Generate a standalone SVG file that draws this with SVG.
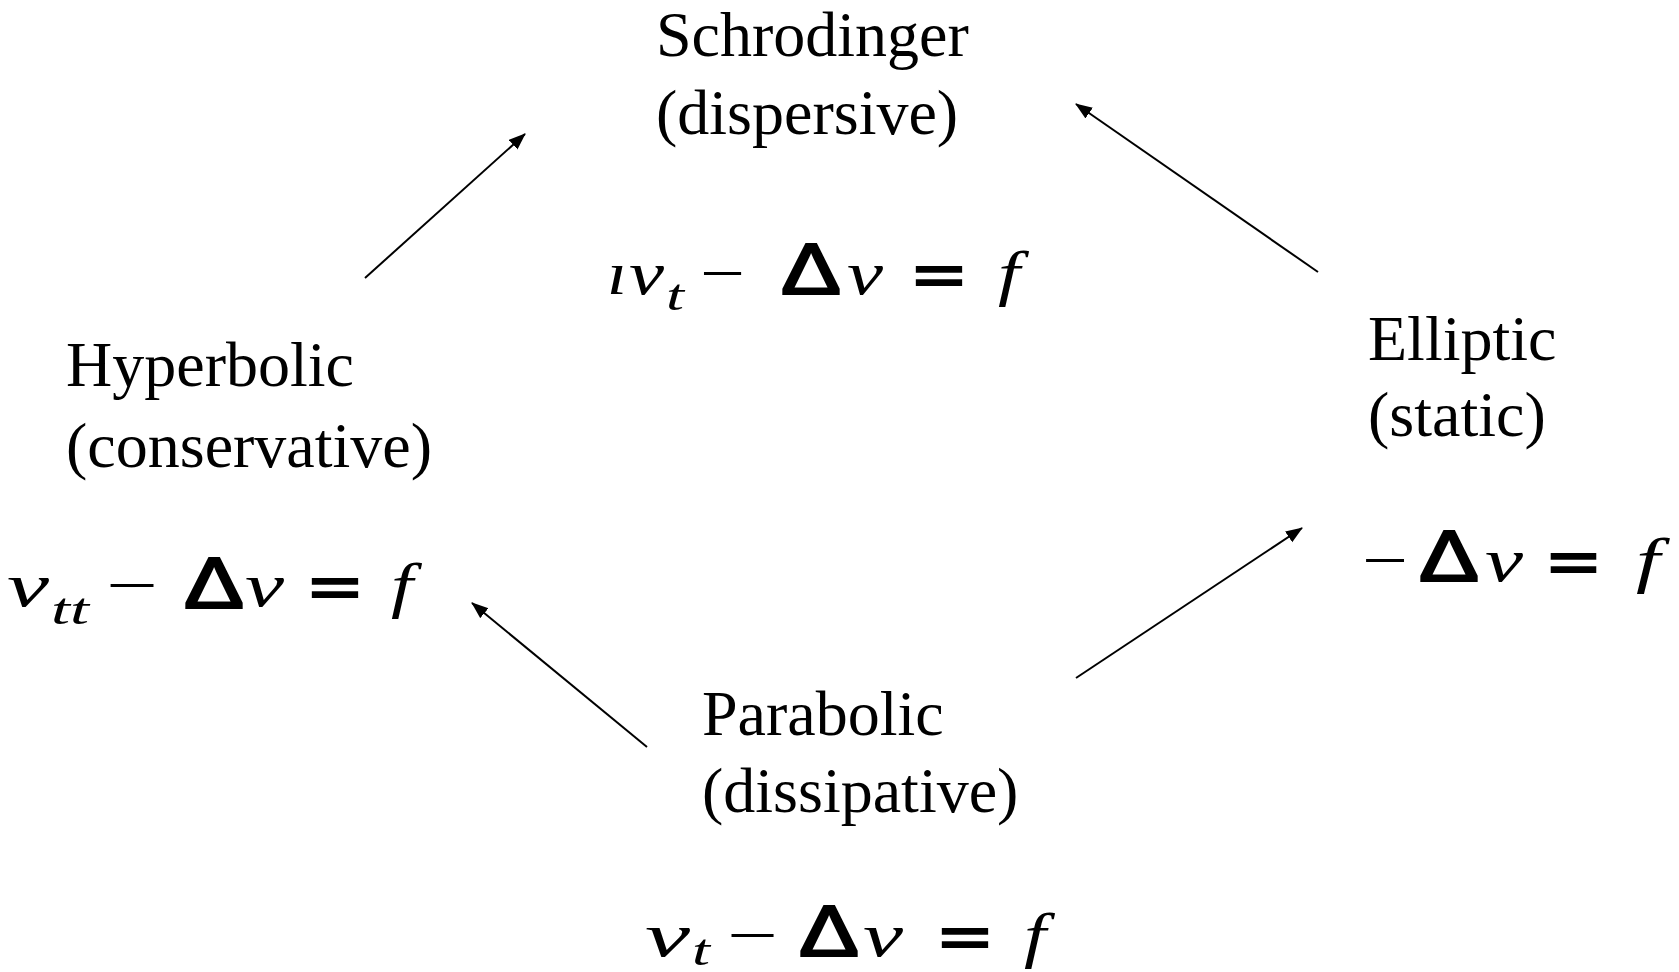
<svg xmlns="http://www.w3.org/2000/svg" width="1679" height="972" viewBox="0 0 1679 972">
<style>
.lbl{font-family:"Liberation Serif","Times New Roman",serif;font-size:64px;fill:#000}
.mi{font-family:"Liberation Serif","Times New Roman",serif;font-style:italic;font-weight:normal;font-size:62px;fill:#000}
.sub{font-family:"Liberation Serif","Times New Roman",serif;font-style:italic;font-size:44px;fill:#000}
.op{font-family:"Liberation Serif","Times New Roman",serif;font-size:62px;fill:#000}
.dl{font-family:"Liberation Sans",Arial,sans-serif;font-weight:normal;font-size:72px;fill:#000;stroke:#000;stroke-width:2.2}
.eq{font-family:"DejaVu Sans",sans-serif;font-weight:bold;font-size:58px;fill:#000}
.conn line{stroke:#000;stroke-width:2;marker-end:url(#ah)}
</style>
<defs>
<marker id="ah" markerUnits="userSpaceOnUse" markerWidth="18" markerHeight="14" refX="16" refY="6.5" orient="auto">
<path d="M0,0 L17,6.5 L0,13 z" fill="#000"/>
</marker>
</defs>
<rect width="1679" height="972" fill="#fff"/>
<g id="schrodinger">
<text class="lbl" x="656" y="56">Schrodinger</text>
<text class="lbl" x="656" y="134">(dispersive)</text>
<g id="eq-schrodinger">
<text class="mi" x="607" y="294" textLength="20" lengthAdjust="spacingAndGlyphs">ı</text>
<text class="mi" x="629" y="294" textLength="35" lengthAdjust="spacingAndGlyphs">v</text>
<text class="sub" x="666" y="310" textLength="18" lengthAdjust="spacingAndGlyphs">t</text>
<text class="op" x="700" y="294" textLength="45" lengthAdjust="spacingAndGlyphs">−</text>
<text class="dl" x="781" y="294" textLength="60" lengthAdjust="spacingAndGlyphs">Δ</text>
<text class="mi" x="847" y="294" textLength="36" lengthAdjust="spacingAndGlyphs">v</text>
<text class="eq" x="908" y="294" textLength="62" lengthAdjust="spacingAndGlyphs">=</text>
<text class="mi" x="998" y="294" textLength="22" lengthAdjust="spacingAndGlyphs">f</text>
</g>
</g>
<g id="hyperbolic">
<text class="lbl" x="66" y="386">Hyperbolic</text>
<text class="lbl" x="66" y="467">(conservative)</text>
<g id="eq-hyperbolic">
<text class="mi" x="7" y="606" textLength="42" lengthAdjust="spacingAndGlyphs">v</text>
<text class="sub" x="51" y="624" textLength="38" lengthAdjust="spacingAndGlyphs">tt</text>
<text class="op" x="106" y="606" textLength="52" lengthAdjust="spacingAndGlyphs">−</text>
<text class="dl" x="184" y="608" textLength="60" lengthAdjust="spacingAndGlyphs">Δ</text>
<text class="mi" x="245" y="606" textLength="39" lengthAdjust="spacingAndGlyphs">v</text>
<text class="eq" x="304" y="606" textLength="62" lengthAdjust="spacingAndGlyphs">=</text>
<text class="mi" x="391" y="606" textLength="22" lengthAdjust="spacingAndGlyphs">f</text>
</g>
</g>
<g id="elliptic">
<text class="lbl" x="1368" y="360">Elliptic</text>
<text class="lbl" x="1368" y="436">(static)</text>
<g id="eq-elliptic">
<text class="op" x="1362" y="581" textLength="46" lengthAdjust="spacingAndGlyphs">−</text>
<text class="dl" x="1419" y="581" textLength="60" lengthAdjust="spacingAndGlyphs">Δ</text>
<text class="mi" x="1485" y="581" textLength="38" lengthAdjust="spacingAndGlyphs">v</text>
<text class="eq" x="1543" y="581" textLength="61" lengthAdjust="spacingAndGlyphs">=</text>
<text class="mi" x="1636" y="581" textLength="24" lengthAdjust="spacingAndGlyphs">f</text>
</g>
</g>
<g id="parabolic">
<text class="lbl" x="702" y="735">Parabolic</text>
<text class="lbl" x="702" y="812">(dissipative)</text>
<g id="eq-parabolic">
<text class="mi" x="645" y="956" textLength="45" lengthAdjust="spacingAndGlyphs">v</text>
<text class="sub" x="692" y="965" textLength="18" lengthAdjust="spacingAndGlyphs">t</text>
<text class="op" x="727" y="956" textLength="51" lengthAdjust="spacingAndGlyphs">−</text>
<text class="dl" x="799" y="956" textLength="60" lengthAdjust="spacingAndGlyphs">Δ</text>
<text class="mi" x="863" y="956" textLength="40" lengthAdjust="spacingAndGlyphs">v</text>
<text class="eq" x="934" y="956" textLength="62" lengthAdjust="spacingAndGlyphs">=</text>
<text class="mi" x="1024" y="956" textLength="22" lengthAdjust="spacingAndGlyphs">f</text>
</g>
</g>
<g id="connectors" class="conn">
<line x1="365" y1="278" x2="525" y2="134"/>
<line x1="1318" y1="272" x2="1076" y2="104"/>
<line x1="647" y1="747" x2="472" y2="603"/>
<line x1="1076" y1="678" x2="1302" y2="528"/>
</g>
</svg>
